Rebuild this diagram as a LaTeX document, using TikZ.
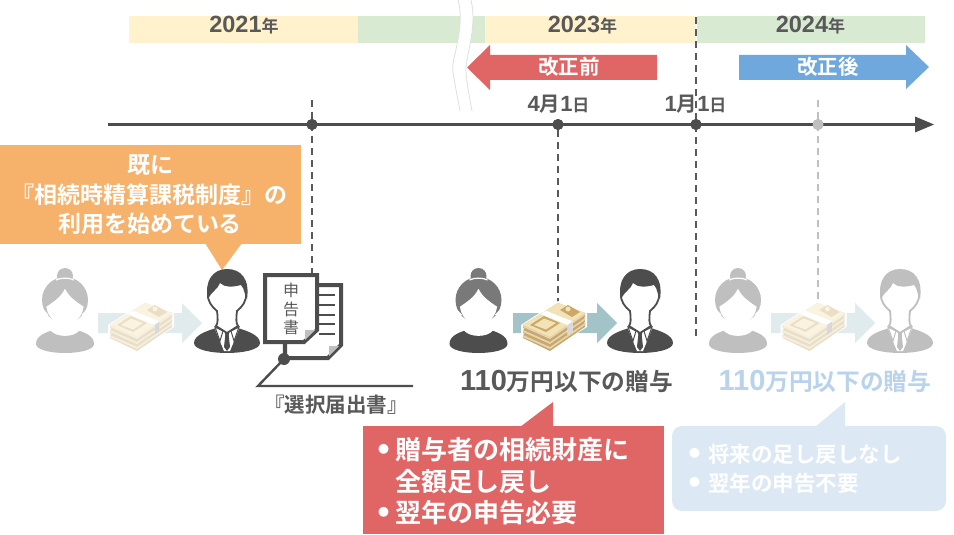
\documentclass[tikz,border=0pt]{standalone}
\usepackage{fontspec}
\setmainfont{Noto Sans CJK JP}[BoldFont={* Bold}]
\newfontfamily\lat{Liberation Sans}[BoldFont={Liberation Sans Bold}]
\definecolor{dk}{HTML}{4D4D4D}
\definecolor{tx}{HTML}{595959}
\definecolor{lg}{HTML}{BFBFBF}
\definecolor{yel}{HTML}{FFF2CC}
\definecolor{grn}{HTML}{D9EAD3}
\definecolor{redb}{HTML}{E06666}
\definecolor{blu}{HTML}{6FA8DC}
\definecolor{org}{HTML}{F6B26B}
\definecolor{lblu}{HTML}{DCE9F5}
\definecolor{ltx}{HTML}{B9D3EC}
\definecolor{tealm}{HTML}{A2C4C9}
\definecolor{teall}{HTML}{DFEBED}
\definecolor{mA}{HTML}{F3E2B5}
\definecolor{mB}{HTML}{C9A868}
\definecolor{mC}{HTML}{FAF3E0}
\definecolor{mD}{HTML}{EADFC6}
\newcommand{\FS}[1]{\fontsize{#1}{#1}\selectfont}
\newcommand{\Bul}{\raisebox{1.5pt}{\FS{11}●}}
\tikzset{
 yrbar/.style={draw=none,fill=#1,minimum height=27,inner sep=0,outer sep=0,anchor=west},
 yrtext/.style={text=tx,font=\bfseries,inner sep=0},
 dash line/.style={draw=#1,line width=2,dash pattern=on 7 off 5},
 tick dot/.style={circle,fill=#1,minimum size=11,inner sep=0},
 wtext/.style={text=white,font=\bfseries,inner sep=0},
 lbl/.style={font=\bfseries,inner sep=0,anchor=west},
}
% woman: x, hair, body
\newcommand{\Woman}[3]{\begin{scope}[shift={(#1,269)}]
 \fill[#2] (0,7) circle (8);
 \fill[#2] (0,31) circle (23);
 \draw[white,line width=1.2] (-9,11) .. controls (-4,8.5) and (4,8.5) .. (9,11);
 \fill[#3] (-29,75) .. controls (-29,66) and (-18,63) .. (-9,60) -- (9,60) .. controls (18,63) and (29,66) .. (29,75) .. controls (29,81) and (14,84) .. (0,84) .. controls (-14,84) and (-29,81) .. (-29,75) -- cycle;
 \draw[white,line width=1.2,fill=white] (0,21) .. controls (-4,29) and (-12,34) .. (-18,38) .. controls (-17,44) and (-14,50) .. (-8,53) -- (-8,56) .. controls (-9,59) and (-12,60) .. (-14,61) .. controls (-9,68) and (9,68) .. (14,61) .. controls (12,60) and (9,59) .. (8,56) -- (8,53) .. controls (14,50) and (17,44) .. (18,38) .. controls (12,34) and (4,29) .. (0,21) -- cycle;
 \draw[white,line width=1.2] (-23,40) -- (-17,46) (23,40) -- (17,46);
\end{scope}}
% man: x, colour
\newcommand{\Man}[2]{\begin{scope}[shift={(#1,269)}]
 \fill[#2] (-33,74) .. controls (-33,66) and (-20,62) .. (-11,59) -- (11,59) .. controls (20,62) and (33,66) .. (33,74) .. controls (33,81) and (15,84) .. (0,84) .. controls (-15,84) and (-33,81) .. (-33,74) -- cycle;
 \fill[white] (-12,56) -- (12,56) -- (12,60) -- (3,82) -- (-3,82) -- (-12,60) -- cycle;
 \fill[#2] (-2.5,62) -- (2.5,62) -- (1.7,66) -- (3,78) -- (0,82) -- (-3,78) -- (-1.7,66) -- cycle;
 \draw[#2,line width=1] (-12,58) -- (-4,62) -- (-7,72) -- cycle (12,58) -- (4,62) -- (7,72) -- cycle;
 \fill[white] (-10,42) .. controls (-9,50) and (-9,54) .. (-11,57) -- (0,64) -- (11,57) .. controls (9,54) and (9,50) .. (10,42) .. controls (15,38) and (20,32) .. (19,24) -- (16,8) -- (-16,8) -- (-19,24) .. controls (-20,32) and (-15,38) .. (-10,42) -- cycle;
 \draw[#2,line width=1.8] (-19,24) .. controls (-20,32) and (-15,38) .. (-10,42) .. controls (-9,50) and (-9,54) .. (-11,57) -- (0,64) -- (11,57) .. controls (9,54) and (9,50) .. (10,42) .. controls (15,38) and (20,32) .. (19,24);
 \fill[#2] (-19,30) .. controls (-23,12) and (-14,0) .. (0,0) .. controls (14,0) and (23,10) .. (20,30) .. controls (17,26) and (18,20) .. (14,16) .. controls (6,18) and (-2,19) .. (-7,14) .. controls (-9,20) and (-15,22) .. (-19,30) -- cycle;
\end{scope}}
% money: x (centre), side, top
\newcommand{\Money}[3]{\begin{scope}[shift={(#1,325)}]
 \fill[white] (-33,0) -- (4,-24) -- (33,-13) -- (33,2) -- (-4,25) -- (-33,12) -- cycle;
 \foreach \d in {10,5,0}{
  \fill[#2,shift={(0,\d)}] (-31,0) -- (4,-22) -- (31,-12) -- (31,-8) -- (-4,16) -- (-31,3) -- cycle;
  \fill[white!50!#2,shift={(0,\d)}] (-31,0) -- (-4,12) -- (31,-12) -- (31,-10) -- (-4,14) -- (-31,2) -- cycle;
 }
 \fill[#3] (-31,0) -- (4,-22) -- (31,-12) -- (-4,12) -- cycle;
 \fill[#2] (-24,0) -- (-10,-9) -- (6,-2) -- (-8,7) -- cycle;
 \fill[#3] (-20,0) -- (-10,-6.5) -- (2,-2) -- (-8,4.5) -- cycle;
 \fill[#2] (6,-15) -- (14,-20) -- (26,-13) -- (18,-8) -- cycle;
 \fill[#3] (14,-16) circle (2.5);
 \fill[white] (-13.5,-11) -- (-8,-14.3) -- (18.7,-3.6) -- (18.7,6.4) -- (13.5,10) -- (13.5,0) -- cycle;
 \fill[lg!60] (13.5,0) -- (18.7,-3.6) -- (18.7,6.4) -- (13.5,10) -- cycle;
\end{scope}}
\newcommand{\Arrow}[2]{\fill[#2] (#1,313) -- ({#1+84},313) -- ({#1+84},303) -- ({#1+104},323) -- ({#1+84},343) -- ({#1+84},333) -- (#1,333) -- cycle;}
\begin{document}
\begin{tikzpicture}[x=1pt,y=-1pt]
\useasboundingbox (0,0) rectangle (954,535);
\fill[white] (0,0) rectangle (954,535);
% year bars
\node[yrbar=yel,minimum width=229] (y21) at (129,29.5) {};
\node[yrbar=grn,minimum width=127] (y22) at (358,29.5) {};
\node[yrbar=yel,minimum width=211] (y23) at (485,29.5) {};
\node[yrbar=grn,minimum width=228] (y24) at (697,29.5) {};
\node[yrtext] (t21) at (244,25) {{\lat\FS{23.5}2021}{\FS{17}年}};
\node[yrtext] (t23) at (582.5,25) {{\lat\FS{23.5}2023}{\FS{17}年}};
\node[yrtext] (t24) at (810.5,25) {{\lat\FS{23.5}2024}{\FS{17}年}};
% axis break
\fill[white] (458,0) .. controls (466,28) and (450,62) .. (453,72) .. controls (455,85) and (458,100) .. (460,111) -- (472,111) .. controls (470,100) and (467,85) .. (466,72) .. controls (464,62) and (478,28) .. (471,0) -- cycle;
\draw[gray!25,line width=.8] (458,0) .. controls (466,28) and (450,62) .. (453,72) .. controls (455,85) and (458,100) .. (460,111);
\draw[gray!25,line width=.8] (471,0) .. controls (478,28) and (464,62) .. (466,72) .. controls (467,85) and (470,100) .. (472,111);
% period arrows
\fill[redb] (657,55) -- (490,55) -- (490,45) -- (467,67.5) -- (490,90) -- (490,80) -- (657,80) -- cycle;
\node[wtext,font=\bfseries\FS{20.5}] (before) at (569,67) {改正前};
\fill[blu] (739,55) -- (906,55) -- (906,45) -- (929,67) -- (906,89) -- (906,80) -- (739,80) -- cycle;
\node[wtext,font=\bfseries\FS{20.5}] (after) at (828,67) {改正後};
% timeline
\node[tick dot=dk] (d1) at (312,124.5) {};
\node[tick dot=dk] (d2) at (558,124.5) {};
\node[tick dot=dk] (d3) at (696,124.5) {};
\node[tick dot=lg] (d4) at (818,124.5) {};
\coordinate (d1t) at (312,100); \coordinate (d1b) at (312,275);
\coordinate (d2b) at (558,302);
\coordinate (d3t) at (696,17); \coordinate (d3b) at (696,336);
\coordinate (d4t) at (818,100); \coordinate (d4b) at (818,302);
\draw[dash line=tx] (d1t) -- (d1b);
\draw[dash line=tx] (d2) -- (d2b);
\draw[dash line=tx] (d3t) -- (d3b);
\draw[dash line=lg] (d4t) -- (d4b);
\fill[dk] (108,123) rectangle (916,126);
\fill[dk] (915,116.5) -- (934,124.5) -- (915,132.5) -- cycle;
\node[tick dot=dk] at (d1) {};
\node[tick dot=dk] at (d2) {};
\node[tick dot=dk] at (d3) {};
\node[tick dot=lg] at (d4) {};
\node[yrtext] (apr) at (558.5,104) {{\lat\FS{22}4}{\FS{20.5}月}{\lat\FS{22}1}{\FS{17}日}};
\node[yrtext] (jan) at (695.5,104) {{\lat\FS{22}1}{\FS{20.5}月}{\lat\FS{22}1}{\FS{17}日}};
% orange callout
\fill[org] (0,145) rectangle (301,244);
\fill[org] (205,243) -- (222,270) -- (242,243) -- cycle;
\node[wtext,font=\bfseries\FS{23}] (o1) at (150,165) {既に};
\node[wtext,font=\bfseries\FS{23}] (o2) at (150,195) {『相続時精算課税制度』の};
\node[wtext,font=\bfseries\FS{23}] (o3) at (150,224) {利用を始めている};
% people
\Arrow{98}{teall}
\Woman{65}{lg}{lg}
\Money{141}{mD}{mC}
\Man{227}{dk}
\Arrow{513}{tealm}
\Woman{478.5}{gray!95!black}{dk}
\Money{554}{mB}{mA}
\Man{640}{dk}
\Arrow{771}{teall}
\Woman{738}{lg}{lg}
\Money{813.5}{mD}{mC}
\Man{900}{lg}
% documents
\draw[dk,line width=4,fill=white] (285,285) -- (341,285) -- (341,345) -- (328,358) -- (285,358) -- cycle;
\fill[lg] (339,346) -- (329,346) -- (329,356) -- cycle;
\foreach \yy in {295,305,315,324,334}{\draw[dk,line width=1.4] (319,\yy) -- (335,\yy);}
\draw[dk,line width=4,fill=white] (265,275) -- (317,275) -- (317,330) -- (304,342) -- (265,342) -- cycle;
\fill[lg] (315,330) -- (305,330) -- (305,340) -- cycle;
\node[yrtext,font=\FS{16}] (sin) at (291,290) {申};
\node[yrtext,font=\FS{16}] (koku) at (291,309) {告};
\node[yrtext,font=\FS{16}] (sho) at (291,327) {書};
% leader
\node[tick dot=dk,minimum size=12] (ld) at (284,359) {};
\coordinate (ldtop) at (284,343);
\coordinate (ldk) at (258,386);
\coordinate (lde) at (413,386);
\draw[dk,line width=2.4] (ldtop) -- (ld.center) -- (ldk) -- (lde);
\node[yrtext,font=\bfseries\FS{20.5}] (sel) at (336,405) {『選択届出書』};
% captions
\node[yrtext] (g1) at (566.5,381) {{\lat\FS{29}110}{\FS{23.7}万円以下の贈与}};
\node[yrtext,text=ltx] (g2) at (825,381) {{\lat\FS{29}110}{\FS{23.7}万円以下の贈与}};
% red box
\fill[redb] (363,426) rectangle (664,534);
\fill[redb] (520,427) -- (553,402) -- (553,427) -- cycle;
\node[lbl,text=white,font=\bfseries\FS{26}] (r0a) at (378,450) {\Bul};
\node[lbl,text=white,font=\bfseries\FS{26}] (r1) at (395,450) {贈与者の相続財産に};
\node[lbl,text=white,font=\bfseries\FS{26}] (r2) at (395,482) {全額足し戻し};
\node[lbl,text=white,font=\bfseries\FS{26}] (r0b) at (378,513) {\Bul};
\node[lbl,text=white,font=\bfseries\FS{26}] (r3) at (395,513) {翌年の申告必要};
% blue box
\fill[lblu,rounded corners=10] (672,426) rectangle (946,511);
\fill[lblu] (815,427) -- (845,402) -- (845,427) -- cycle;
\node[lbl,text=white,font=\bfseries\FS{21.5}] (b0a) at (689,454) {\Bul};
\node[lbl,text=white,font=\bfseries\FS{21.5}] (b1) at (708,454) {将来の足し戻しなし};
\node[lbl,text=white,font=\bfseries\FS{21.5}] (b0b) at (689,483) {\Bul};
\node[lbl,text=white,font=\bfseries\FS{21.5}] (b2) at (708,483) {翌年の申告不要};
\end{tikzpicture}
\end{document}
